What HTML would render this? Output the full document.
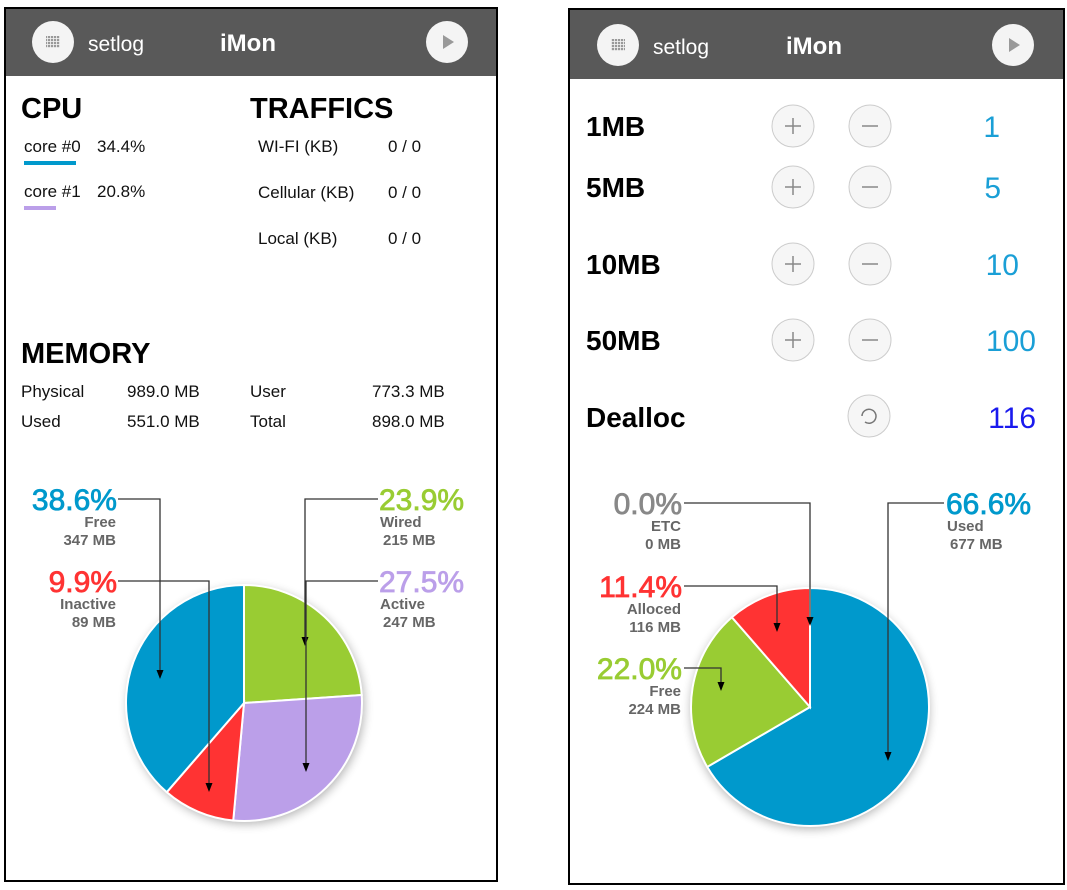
<!DOCTYPE html>
<html><head><meta charset="utf-8"><style>
body{margin:0;width:1067px;height:890px;background:#fff;overflow:hidden;font-family:"Liberation Sans",sans-serif}
svg{position:absolute;left:0;top:0}
</style></head><body>
<svg width="1067" height="890" font-family="Liberation Sans, sans-serif">
<defs><filter id="sh" x="-20%" y="-20%" width="140%" height="140%"><feGaussianBlur stdDeviation="5"/></filter>
<pattern id="grid" width="3" height="3" patternUnits="userSpaceOnUse"><rect width="2.2" height="2.2" fill="#999"/></pattern></defs>
<!-- left panel -->
<g>
<rect x="5" y="8" width="492" height="873" fill="#fff" stroke="#000" stroke-width="2"/>
<rect x="6" y="9" width="490" height="67" fill="#595959"/>
<circle cx="53" cy="42" r="21" fill="#f4f4f4"/>
<rect x="46" y="36" width="14" height="12" fill="url(#grid)"/>
<text x="88" y="51" font-size="21" fill="#fff">setlog</text>
<text x="220" y="51" font-size="24" font-weight="bold" fill="#fff">iMon</text>
<circle cx="447" cy="42" r="21" fill="#f4f4f4"/>
<path d="M443,35 L454,42 L443,49Z" fill="#999"/>
<text x="21" y="118" font-size="29" font-weight="bold">CPU</text>
<text x="250" y="118" font-size="29" font-weight="bold">TRAFFICS</text>
<g font-size="17" fill="#111">
<text x="24" y="152">core #0</text><text x="97" y="152">34.4%</text>
<text x="24" y="197">core #1</text><text x="97" y="197">20.8%</text>
<text x="258" y="152">WI-FI (KB)</text><text x="388" y="152">0 / 0</text>
<text x="258" y="198">Cellular (KB)</text><text x="388" y="198">0 / 0</text>
<text x="258" y="244">Local (KB)</text><text x="388" y="244">0 / 0</text>
<text x="21" y="397">Physical</text><text x="127" y="397">989.0 MB</text>
<text x="250" y="397">User</text><text x="372" y="397">773.3 MB</text>
<text x="21" y="427">Used</text><text x="127" y="427">551.0 MB</text>
<text x="250" y="427">Total</text><text x="372" y="427">898.0 MB</text>
</g>
<rect x="24" y="161" width="52" height="4" fill="#0099cc"/>
<rect x="24" y="206" width="32" height="4" fill="#bb9fe9"/>
<text x="21" y="363" font-size="29" font-weight="bold">MEMORY</text>
<circle cx="246" cy="706" r="118" fill="#000" opacity="0.3" filter="url(#sh)"/>
<g id="pieL"></g>
</g>
<!-- right panel -->
<g>
<rect x="569" y="9" width="495" height="875" fill="#fff" stroke="#000" stroke-width="2"/>
<rect x="570" y="10" width="493" height="69" fill="#595959"/>
<circle cx="618" cy="45" r="21" fill="#f4f4f4"/>
<rect x="611" y="39" width="14" height="12" fill="url(#grid)"/>
<text x="653" y="54" font-size="21" fill="#fff">setlog</text>
<text x="786" y="54" font-size="24" font-weight="bold" fill="#fff">iMon</text>
<circle cx="1013" cy="45" r="21" fill="#f4f4f4"/>
<path d="M1009,38 L1020,45 L1009,52Z" fill="#999"/>
<g font-size="28" font-weight="bold">
<text x="586" y="136">1MB</text><text x="586" y="197">5MB</text><text x="586" y="274">10MB</text><text x="586" y="350">50MB</text><text x="586" y="427">Dealloc</text>
</g>
<g font-size="30" fill="#1a9fd6" text-anchor="end">
<text x="1000" y="137">1</text><text x="1001" y="198">5</text><text x="1019" y="275">10</text><text x="1036" y="351">100</text>
<text x="1036" y="428" fill="#1a1aee">116</text>
</g>
<g id="btns"></g>
<circle cx="869" cy="416" r="21" fill="#f6f6f6" stroke="#ccc"/>
<path d="M862,416 a7,7 0 1 1 3,6" fill="none" stroke="#777" stroke-width="1.5"/>
<circle cx="810" cy="710" r="119" fill="#000" opacity="0.3" filter="url(#sh)"/>
<g id="pieR"></g>
</g>
</svg>
<script>
const leftLabels=["Wired","Active","Inactive","Free"];
const leftPct=[23.9,27.5,9.9,38.6];
const leftMB=[215,247,89,347];
const leftColors=["#99cc33","#bb9fe9","#ff3333","#0099cc"];
const rightLabels=["Used","Free","Alloced","ETC"];
const rightPct=[66.6,22.0,11.4,0.0];
const rightMB=[677,224,116,0];
const rightColors=["#0099cc","#99cc33","#ff3333","#888888"];
const NS="http://www.w3.org/2000/svg";
function mk(p,t,a){const e=document.createElementNS(NS,t);for(const k in a)e.setAttribute(k,a[k]);p.appendChild(e);return e;}
function pie(id,cx,cy,r,pct,cols,names){
 const g=document.getElementById(id);const tot=pct.reduce((a,b)=>a+b,0);let acc=0;
 pct.forEach((v,i)=>{if(v<=0)return;const a0=acc/tot*2*Math.PI;acc+=v;const a1=acc/tot*2*Math.PI;
  const x0=cx+r*Math.sin(a0),y0=cy-r*Math.cos(a0),x1=cx+r*Math.sin(a1),y1=cy-r*Math.cos(a1);
  const p=mk(g,'path',{d:`M${cx},${cy}L${x0},${y0}A${r},${r} 0 ${a1-a0>Math.PI?1:0} 1 ${x1},${y1}Z`,fill:cols[i],stroke:'#fff','stroke-width':2});
  
  });
}
pie('pieL',244,703,118,leftPct,leftColors,leftLabels);
pie('pieR',810,707,119,rightPct,rightColors,rightLabels);
function label(id,side,tx,ty,pct,name,mb,col,lx,ex,ey){
 const g=document.getElementById(id);
 const a=side=='r'?'end':'start';
 const t=mk(g,'text',{x:tx,y:ty,'font-size':30,fill:col,stroke:col,'stroke-width':0.8,'text-anchor':a});t.textContent=pct.toFixed(1)+'%';
 
 
 const n=mk(g,'text',{x:side=='r'?tx-1:tx+1,y:ty+17,'font-size':15,'font-weight':'bold',fill:'#666','text-anchor':a});n.textContent=name;
 const m=mk(g,'text',{x:side=='r'?tx-1:tx+4,y:ty+35,'font-size':15,'font-weight':'bold',fill:'#666','text-anchor':a});m.textContent=mb+' MB';
 mk(g,'path',{d:`M${lx},${ty-11}H${ex}V${ey-8}`,fill:'none',stroke:'#333','stroke-width':1.3});
 mk(g,'path',{d:`M${ex-3.5},${ey-9}L${ex+3.5},${ey-9}L${ex},${ey}Z`,fill:'#000'});
}
label('pieL','r',117,510,leftPct[3],leftLabels[3],leftMB[3],leftColors[3],118,160,679);
label('pieL','r',117,592,leftPct[2],leftLabels[2],leftMB[2],leftColors[2],118,209,792);
label('pieL','l',379,510,leftPct[0],leftLabels[0],leftMB[0],leftColors[0],378,305,646);
label('pieL','l',379,592,leftPct[1],leftLabels[1],leftMB[1],leftColors[1],378,306,772);
label('pieR','r',682,514,rightPct[3],rightLabels[3],rightMB[3],rightColors[3],684,810,626);
label('pieR','r',682,597,rightPct[2],rightLabels[2],rightMB[2],rightColors[2],684,777,632);
label('pieR','r',682,679,rightPct[1],rightLabels[1],rightMB[1],rightColors[1],684,721,691);
label('pieR','l',946,514,rightPct[0],rightLabels[0],rightMB[0],rightColors[0],944,888,761);
const bg=document.getElementById('btns');
[126,187,264,340].forEach((y,i)=>{
 [[793,'plus'],[870,'minus']].forEach(([x,k])=>{
  const c=mk(bg,'circle',{cx:x,cy:y,r:21,fill:'#f6f6f6',stroke:'#ccc'});
  
  
  mk(bg,'path',{d:k=='plus'?`M${x-8},${y}H${x+8}M${x},${y-8}V${y+8}`:`M${x-8},${y}H${x+8}`,stroke:'#888','stroke-width':1.5});
 });
});
</script>
</body></html>
